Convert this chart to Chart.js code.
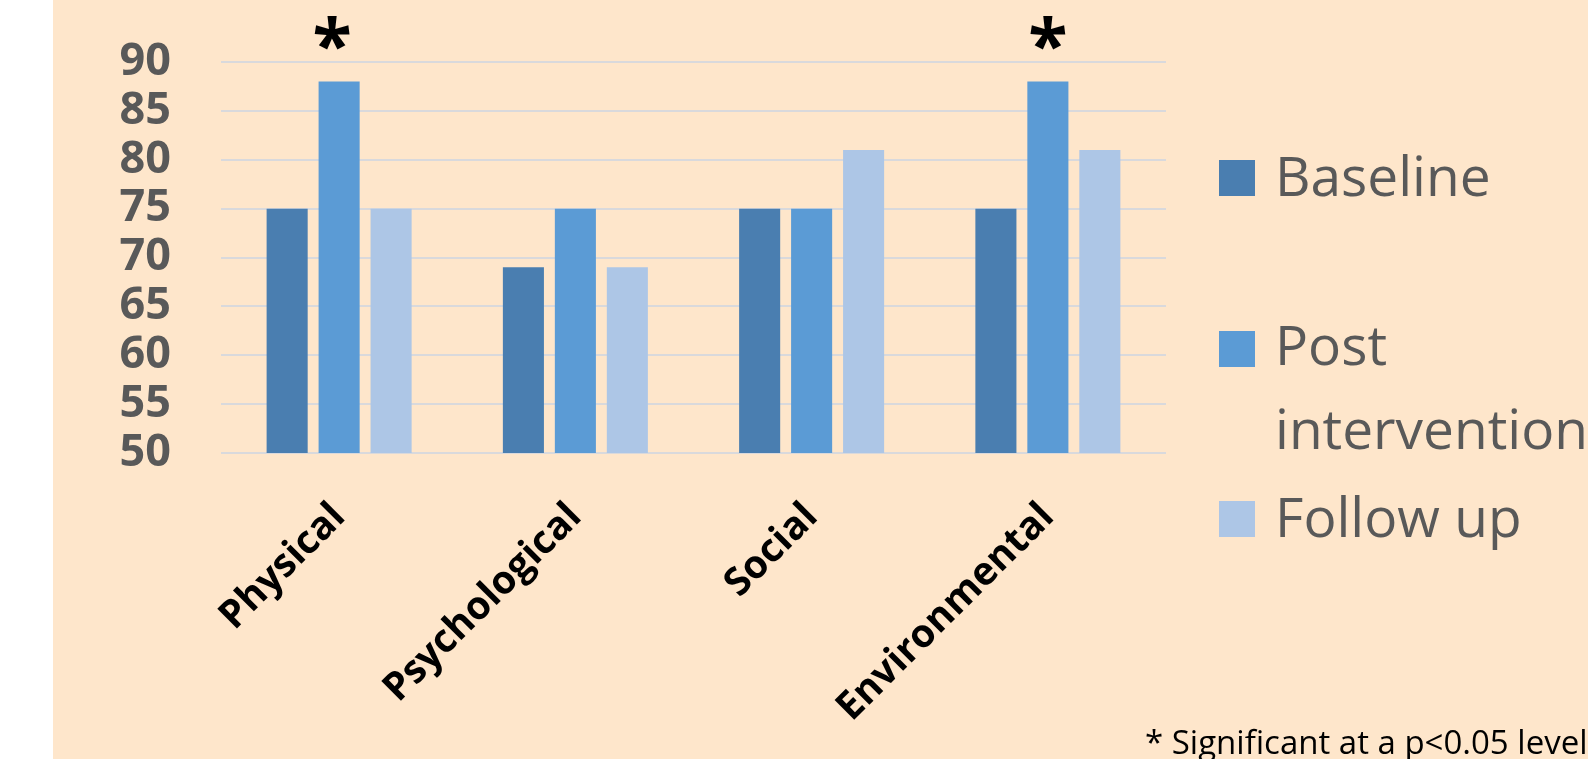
<!DOCTYPE html>
<html lang="en">
<head>
    <meta charset="UTF-8">
    <title>Quality of life domains</title>
    <script src="https://cdn.jsdelivr.net/npm/chart.js"></script>
    <style>
        html, body { margin: 0; padding: 0; background: #ffffff; overflow: hidden; }
        #page { position: relative; width: 1588px; height: 759px; }
        #peach { position: absolute; left: 53px; top: 0; width: 1535px; height: 759px; background: #fee6cb; }
        #chart { position: absolute; left: 0; top: 0; }
        .leg { position: absolute; left: 1275px; font-family: "Open Sans", sans-serif; font-size: 55px; line-height: 84px; color: #595959; white-space: nowrap; }
        .box { position: absolute; left: 1219px; width: 36px; height: 36px; }
        #note { position: absolute; left: 1145px; top: 725px; font-family: "Open Sans", sans-serif; font-size: 33px; line-height: 33px; color: #000; white-space: nowrap; }
    </style>
</head>
<body>
<div id="page">
    <div id="peach"></div>
    <canvas id="chart" width="1588" height="759"></canvas>
    <div id="legend"></div>
    <div id="note">* Significant at a p&lt;0.05 level</div>
</div>
<script>
    // data
    const domains = ['Physical', 'Psychological', 'Social', 'Environmental'];
    const seriesNames = ['Baseline', 'Post\nintervention', 'Follow up'];
    const baseline = [75, 69, 75, 75];
    const postIntervention = [88, 75, 75, 88];
    const followUp = [75, 69, 81, 81];
    const significant = [true, false, false, true]; // post intervention vs baseline
    const colors = ['#4a7eb0', '#5b9bd5', '#adc6e6'];

    // stars above the significant post intervention bars
    const starPlugin = {
        id: 'stars',
        afterDatasetsDraw(chart) {
            const meta = chart.getDatasetMeta(1);
            const ctx = chart.ctx;
            ctx.save();
            ctx.fillStyle = '#000';
            ctx.font = 'bold 72px "Open Sans"';
            ctx.textAlign = 'center';
            ctx.textBaseline = 'alphabetic';
            meta.data.forEach((bar, i) => {
                if (significant[i]) ctx.fillText('*', bar.x - (i === 0 ? 7 : 0), bar.y - 11);
            });
            ctx.restore();
        }
    };

    const chart = new Chart(document.getElementById('chart'), {
        type: 'bar',
        data: {
            labels: domains,
            datasets: [baseline, postIntervention, followUp].map((d, i) => ({
                label: seriesNames[i],
                data: d,
                backgroundColor: colors[i],
                borderWidth: 0,
                categoryPercentage: 0.66,
                barPercentage: 0.79
            }))
        },
        options: {
            responsive: false,
            animation: false,
            layout: { padding: { left: 60, right: 422, top: 62, bottom: 0 } },
            plugins: {
                legend: { display: false },
                tooltip: { enabled: false }
            },
            scales: {
                x: {
                    grid: { display: false },
                    border: { display: false },
                    ticks: {
                        minRotation: 45,
                        maxRotation: 45,
                        padding: 33,
                        color: '#000',
                        font: { family: 'Open Sans', size: 39, weight: 'bold' }
                    },
                    afterFit(scale) { scale.height = 306; }
                },
                y: {
                    min: 50,
                    max: 90,
                    border: { display: false },
                    grid: { color: '#d9d9dc', lineWidth: 2, drawTicks: false },
                    ticks: {
                        stepSize: 5,
                        autoSkip: false,
                        padding: 50,
                        color: '#595959',
                        font: { family: 'Open Sans', size: 45, weight: 'bold' }
                    },
                    afterFit(scale) {
                        scale.width = 161;
                        // the big tick padding should not push the plot down
                        scale.paddingTop = 0;
                        scale.paddingBottom = 0;
                    }
                }
            }
        },
        plugins: [starPlugin]
    });

    // legend on the right, built from the datasets
    const legendTops = [133, 302, 474];
    const boxTops = [160, 331, 501];
    const legend = document.getElementById('legend');
    chart.data.datasets.forEach((ds, i) => {
        const box = document.createElement('div');
        box.className = 'box';
        box.style.top = boxTops[i] + 'px';
        box.style.background = ds.backgroundColor;
        legend.appendChild(box);
        const txt = document.createElement('div');
        txt.className = 'leg';
        txt.style.top = legendTops[i] + 'px';
        txt.innerHTML = ds.label.replace('\n', '<br>');
        legend.appendChild(txt);
    });
</script>
</body>
</html>
